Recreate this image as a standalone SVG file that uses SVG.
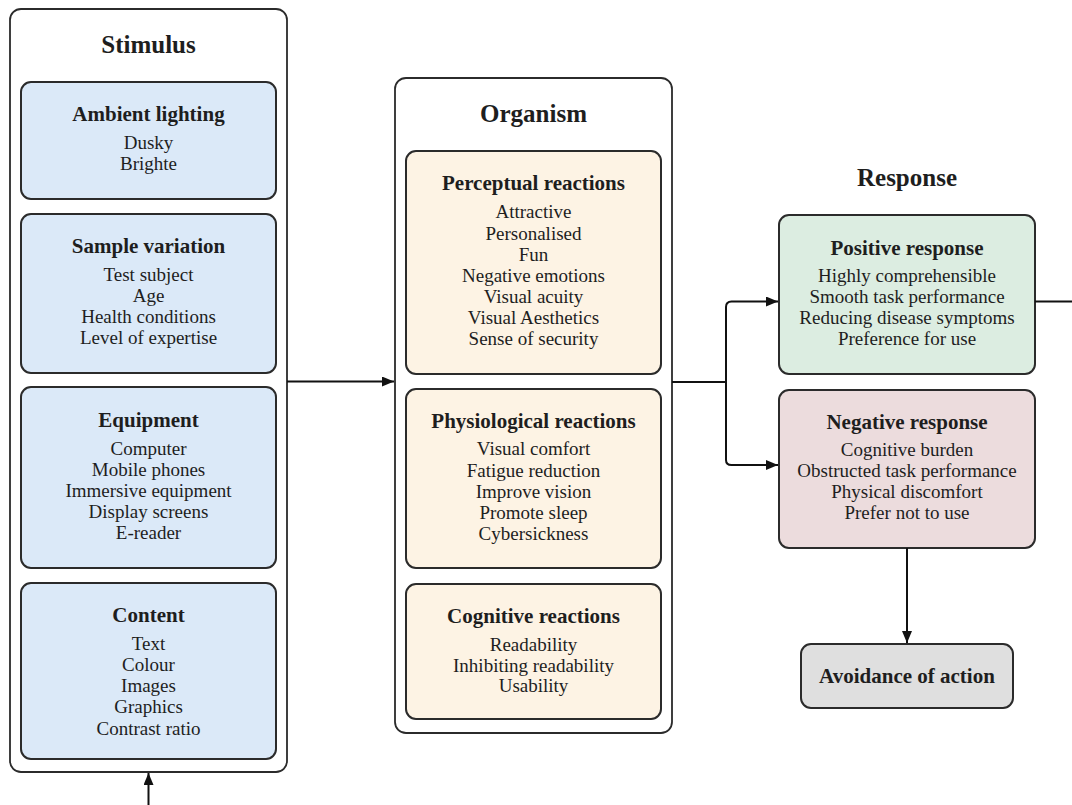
<svg xmlns="http://www.w3.org/2000/svg" width="1072" height="805" viewBox="0 0 1072 805">
<style>
text{font-family:"Liberation Serif","Times New Roman",serif;fill:#1e1e1e;text-anchor:middle}
.main{font-size:25px;font-weight:bold}
.ttl{font-size:21px;font-weight:bold}
.it{font-size:19px}
.outer{fill:#fff;stroke:#2b2b2b;stroke-width:1.8}
.box{stroke:#2b2b2b;stroke-width:2}
.s{fill:#dbe9f8}
.o{fill:#fdf3e4}
.pos{fill:#dcede1}
.neg{fill:#ecdcdd}
.av{fill:#dfdfdf}
.edge{fill:none;stroke:#111;stroke-width:2}
</style>
<defs>
<marker id="ah" viewBox="0 0 12 10" refX="12" refY="5" markerWidth="12" markerHeight="10" markerUnits="userSpaceOnUse" orient="auto">
<path d="M0,0 L12,5 L0,10 z" fill="#111"/>
</marker>
</defs>
<rect x="0" y="0" width="1072" height="805" fill="#fff"/>

<g id="stimulus">
<rect class="outer" x="10" y="9" width="277" height="763" rx="11"/>
<text class="main" x="148.5" y="53">Stimulus</text>
</g>
<g id="ambient-lighting">
<rect class="box s" x="21" y="82" width="255" height="117" rx="10"/>
<text class="ttl" x="148.5" y="121">Ambient lighting</text>
<text class="it" x="148.5" y="149">Dusky</text>
<text class="it" x="148.5" y="170">Brighte</text>
</g>
<g id="sample-variation">
<rect class="box s" x="21" y="214" width="255" height="159" rx="10"/>
<text class="ttl" x="148.5" y="253">Sample variation</text>
<text class="it" x="148.5" y="281">Test subject</text>
<text class="it" x="148.5" y="302">Age</text>
<text class="it" x="148.5" y="323">Health conditions</text>
<text class="it" x="148.5" y="344">Level of expertise</text>
</g>
<g id="equipment">
<rect class="box s" x="21" y="387" width="255" height="181" rx="10"/>
<text class="ttl" x="148.5" y="427">Equipment</text>
<text class="it" x="148.5" y="455">Computer</text>
<text class="it" x="148.5" y="476">Mobile phones</text>
<text class="it" x="148.5" y="497">Immersive equipment</text>
<text class="it" x="148.5" y="518">Display screens</text>
<text class="it" x="148.5" y="539">E-reader</text>
</g>
<g id="content">
<rect class="box s" x="21" y="583" width="255" height="176" rx="10"/>
<text class="ttl" x="148.5" y="622">Content</text>
<text class="it" x="148.5" y="650">Text</text>
<text class="it" x="148.5" y="671">Colour</text>
<text class="it" x="148.5" y="692">Images</text>
<text class="it" x="148.5" y="713">Graphics</text>
<text class="it" x="148.5" y="735">Contrast ratio</text>
</g>

<g id="organism">
<rect class="outer" x="395" y="78" width="277" height="655" rx="11"/>
<text class="main" x="533.5" y="122">Organism</text>
</g>
<g id="perceptual-reactions">
<rect class="box o" x="406" y="151" width="255" height="223" rx="10"/>
<text class="ttl" x="533.5" y="190">Perceptual reactions</text>
<text class="it" x="533.5" y="218">Attractive</text>
<text class="it" x="533.5" y="240">Personalised</text>
<text class="it" x="533.5" y="261">Fun</text>
<text class="it" x="533.5" y="282">Negative emotions</text>
<text class="it" x="533.5" y="303">Visual acuity</text>
<text class="it" x="533.5" y="324">Visual Aesthetics</text>
<text class="it" x="533.5" y="345">Sense of security</text>
</g>
<g id="physiological-reactions">
<rect class="box o" x="406" y="389" width="255" height="179" rx="10"/>
<text class="ttl" x="533.5" y="428">Physiological reactions</text>
<text class="it" x="533.5" y="455">Visual comfort</text>
<text class="it" x="533.5" y="477">Fatigue reduction</text>
<text class="it" x="533.5" y="498">Improve vision</text>
<text class="it" x="533.5" y="519">Promote sleep</text>
<text class="it" x="533.5" y="540">Cybersickness</text>
</g>
<g id="cognitive-reactions">
<rect class="box o" x="406" y="584" width="255" height="135" rx="10"/>
<text class="ttl" x="533.5" y="623">Cognitive reactions</text>
<text class="it" x="533.5" y="651">Readability</text>
<text class="it" x="533.5" y="672">Inhibiting readability</text>
<text class="it" x="533.5" y="692">Usability</text>
</g>

<g id="response">
<text class="main" x="907" y="186">Response</text>
</g>
<g id="positive-response">
<rect class="box pos" x="779" y="215" width="256" height="159" rx="10"/>
<text class="ttl" x="907" y="255">Positive response</text>
<text class="it" x="907" y="282">Highly comprehensible</text>
<text class="it" x="907" y="303">Smooth task performance</text>
<text class="it" x="907" y="324">Reducing disease symptoms</text>
<text class="it" x="907" y="345">Preference for use</text>
</g>
<g id="negative-response">
<rect class="box neg" x="779" y="390" width="256" height="158" rx="10"/>
<text class="ttl" x="907" y="429">Negative response</text>
<text class="it" x="907" y="456">Cognitive burden</text>
<text class="it" x="907" y="477">Obstructed task performance</text>
<text class="it" x="907" y="498">Physical discomfort</text>
<text class="it" x="907" y="519">Prefer not to use</text>
</g>
<g id="avoidance-of-action">
<rect class="box av" x="801" y="644" width="212" height="64" rx="10"/>
<text class="ttl" x="907" y="683">Avoidance of action</text>
</g>

<g id="connectors">
<path class="edge" d="M287,381.5 H394" marker-end="url(#ah)"/>
<path class="edge" d="M672,382 H726"/>
<path class="edge" d="M726,382 V307 Q726,301.5 731.5,301.5 H778" marker-end="url(#ah)"/>
<path class="edge" d="M726,382 V460 Q726,465 731.5,465 H778" marker-end="url(#ah)"/>
<path class="edge" d="M1035,301.5 H1072"/>
<path class="edge" d="M907,548 V643" marker-end="url(#ah)"/>
<path class="edge" d="M148.5,805 V773" marker-end="url(#ah)"/>
</g>
</svg>
